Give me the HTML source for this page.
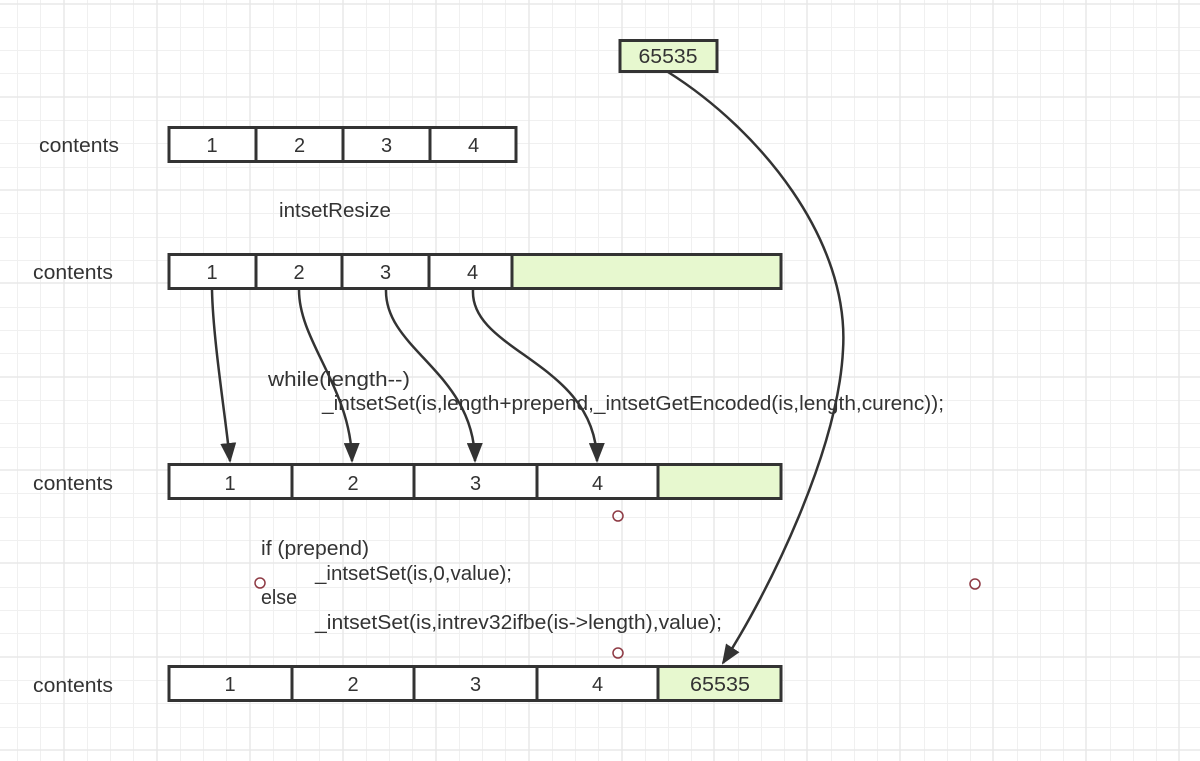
<!DOCTYPE html>
<html>
<head>
<meta charset="utf-8">
<style>
  html,body{margin:0;padding:0;background:#fff;}
  svg{display:block;}
  text{font-family:"Liberation Sans","DejaVu Sans",sans-serif;font-size:20px;fill:#333;}
</style>
</head>
<body>
<svg width="1200" height="761" viewBox="0 0 1200 761" xmlns="http://www.w3.org/2000/svg">
  <defs>
    <marker id="ah" markerUnits="userSpaceOnUse" markerWidth="20" markerHeight="16" viewBox="0 0 20 16" refX="18" refY="8" orient="auto">
      <path d="M0,0 L20,8 L0,16 z" fill="#333"/>
    </marker>
  </defs>

  <rect x="0" y="0" width="1200" height="761" fill="#fff"/>

  <!-- minor grid -->
  <path stroke="#f0f0f0" stroke-width="1" fill="none" d="
    M17.5,0V761 M40.5,0V761 M87.5,0V761 M110.5,0V761 M133.5,0V761
    M180.5,0V761 M203.5,0V761 M226.5,0V761
    M273.5,0V761 M296.5,0V761 M319.5,0V761
    M366.5,0V761 M389.5,0V761 M412.5,0V761
    M459.5,0V761 M482.5,0V761 M505.5,0V761
    M552.5,0V761 M575.5,0V761 M598.5,0V761
    M645.5,0V761 M668.5,0V761 M691.5,0V761
    M738.5,0V761 M761.5,0V761 M784.5,0V761
    M831.5,0V761 M854.5,0V761 M877.5,0V761
    M924.5,0V761 M947.5,0V761 M970.5,0V761
    M1017.5,0V761 M1040.5,0V761 M1063.5,0V761
    M1110.5,0V761 M1133.5,0V761 M1156.5,0V761
    M0,27.5H1200 M0,50.5H1200 M0,73.5H1200
    M0,120.5H1200 M0,143.5H1200 M0,167.5H1200
    M0,213.5H1200 M0,237.5H1200 M0,260.5H1200
    M0,307.5H1200 M0,330.5H1200 M0,353.5H1200
    M0,400.5H1200 M0,423.5H1200 M0,447.5H1200
    M0,493.5H1200 M0,517.5H1200 M0,540.5H1200
    M0,587.5H1200 M0,610.5H1200 M0,633.5H1200
    M0,680.5H1200 M0,703.5H1200 M0,727.5H1200
  "/>
  <!-- major grid -->
  <path stroke="#e8e8e8" stroke-width="1.5" fill="none" d="
    M64,0V761 M157,0V761 M250,0V761 M343,0V761 M436,0V761 M529,0V761
    M622,0V761 M714,0V761 M807,0V761 M900,0V761 M993,0V761 M1086,0V761 M1179,0V761
    M0,4H1200 M0,97H1200 M0,190H1200 M0,283H1200 M0,377H1200 M0,470H1200
    M0,563H1200 M0,657H1200 M0,750H1200
  "/>

  <!-- Row 1 -->
  <text x="39" y="152" textLength="80" lengthAdjust="spacingAndGlyphs">contents</text>
  <rect x="169" y="127.5" width="347" height="34" fill="#fff" stroke="#333" stroke-width="3"/>
  <line x1="256" y1="127.5" x2="256" y2="161.5" stroke="#333" stroke-width="3"/>
  <line x1="343" y1="127.5" x2="343" y2="161.5" stroke="#333" stroke-width="3"/>
  <line x1="430" y1="127.5" x2="430" y2="161.5" stroke="#333" stroke-width="3"/>
  <text x="212" y="152" text-anchor="middle">1</text>
  <text x="299.5" y="152" text-anchor="middle">2</text>
  <text x="386.5" y="152" text-anchor="middle">3</text>
  <text x="473.5" y="152" text-anchor="middle">4</text>

  <!-- intsetResize -->
  <text x="279" y="217" textLength="112" lengthAdjust="spacingAndGlyphs">intsetResize</text>

  <!-- Row 2 -->
  <text x="33" y="279" textLength="80" lengthAdjust="spacingAndGlyphs">contents</text>
  <rect x="169" y="254.5" width="612" height="34" fill="#fff" stroke="#333" stroke-width="3"/>
  <rect x="512" y="254.5" width="269" height="34" fill="#e7f8cf" stroke="#333" stroke-width="3"/>
  <line x1="256" y1="254.5" x2="256" y2="288.5" stroke="#333" stroke-width="3"/>
  <line x1="342" y1="254.5" x2="342" y2="288.5" stroke="#333" stroke-width="3"/>
  <line x1="429" y1="254.5" x2="429" y2="288.5" stroke="#333" stroke-width="3"/>
  <text x="212" y="279" text-anchor="middle">1</text>
  <text x="299" y="279" text-anchor="middle">2</text>
  <text x="385.5" y="279" text-anchor="middle">3</text>
  <text x="472.5" y="279" text-anchor="middle">4</text>

  <!-- Code block 1 -->
  <text x="268" y="386" textLength="142" lengthAdjust="spacingAndGlyphs">while(length--)</text>
  <text x="322" y="410" textLength="622" lengthAdjust="spacingAndGlyphs">_intsetSet(is,length+prepend,_intsetGetEncoded(is,length,curenc));</text>

  <!-- Row 3 -->
  <text x="33" y="490" textLength="80" lengthAdjust="spacingAndGlyphs">contents</text>
  <rect x="169" y="464.5" width="612" height="34" fill="#fff" stroke="#333" stroke-width="3"/>
  <rect x="658" y="464.5" width="123" height="34" fill="#e7f8cf" stroke="#333" stroke-width="3"/>
  <line x1="292" y1="464.5" x2="292" y2="498.5" stroke="#333" stroke-width="3"/>
  <line x1="414" y1="464.5" x2="414" y2="498.5" stroke="#333" stroke-width="3"/>
  <line x1="537" y1="464.5" x2="537" y2="498.5" stroke="#333" stroke-width="3"/>
  <text x="230" y="490" text-anchor="middle">1</text>
  <text x="353" y="490" text-anchor="middle">2</text>
  <text x="475.5" y="490" text-anchor="middle">3</text>
  <text x="597.5" y="490" text-anchor="middle">4</text>

  <!-- Code block 2 -->
  <text x="261" y="555" textLength="108" lengthAdjust="spacingAndGlyphs">if (prepend)</text>
  <text x="315" y="580" textLength="197" lengthAdjust="spacingAndGlyphs">_intsetSet(is,0,value);</text>
  <text x="261" y="604" textLength="36" lengthAdjust="spacingAndGlyphs">else</text>
  <text x="315" y="629" textLength="407" lengthAdjust="spacingAndGlyphs">_intsetSet(is,intrev32ifbe(is-&gt;length),value);</text>

  <!-- Row 4 -->
  <text x="33" y="692" textLength="80" lengthAdjust="spacingAndGlyphs">contents</text>
  <rect x="169" y="666.5" width="612" height="34" fill="#fff" stroke="#333" stroke-width="3"/>
  <rect x="658" y="666.5" width="123" height="34" fill="#e7f8cf" stroke="#333" stroke-width="3"/>
  <line x1="292" y1="666.5" x2="292" y2="700.5" stroke="#333" stroke-width="3"/>
  <line x1="414" y1="666.5" x2="414" y2="700.5" stroke="#333" stroke-width="3"/>
  <line x1="537" y1="666.5" x2="537" y2="700.5" stroke="#333" stroke-width="3"/>
  <text x="230" y="691" text-anchor="middle">1</text>
  <text x="353" y="691" text-anchor="middle">2</text>
  <text x="475.5" y="691" text-anchor="middle">3</text>
  <text x="597.5" y="691" text-anchor="middle">4</text>
  <text x="720" y="691" text-anchor="middle" textLength="60" lengthAdjust="spacingAndGlyphs">65535</text>

  <!-- Top 65535 box -->
  <rect x="620" y="40.5" width="97" height="31" fill="#e7f8cf" stroke="#333" stroke-width="3"/>
  <text x="668" y="63" text-anchor="middle" textLength="59" lengthAdjust="spacingAndGlyphs">65535</text>

  <!-- Arrows -->
  <g fill="none" stroke="#333" stroke-width="2.5" stroke-linecap="butt">
    <path d="M212,290 C213,340 226,420 230,461" marker-end="url(#ah)"/>
    <path d="M299,290 C299,342 351,388 352,461" marker-end="url(#ah)"/>
    <path d="M386,290 C385,350 474,372 475,461" marker-end="url(#ah)"/>
    <path d="M473,290 C470,352 596,362 597,461" marker-end="url(#ah)"/>
    <path d="M668,72 C760,130 850,240 843,350 C838,450 770,590 723,663" marker-end="url(#ah)"/>
  </g>

  <!-- small circles -->
  <g fill="none" stroke="#8e3a44" stroke-width="1.5">
    <circle cx="618" cy="516" r="5"/>
    <circle cx="260" cy="583" r="5"/>
    <circle cx="975" cy="584" r="5"/>
    <circle cx="618" cy="653" r="5"/>
  </g>
</svg>
</body>
</html>
